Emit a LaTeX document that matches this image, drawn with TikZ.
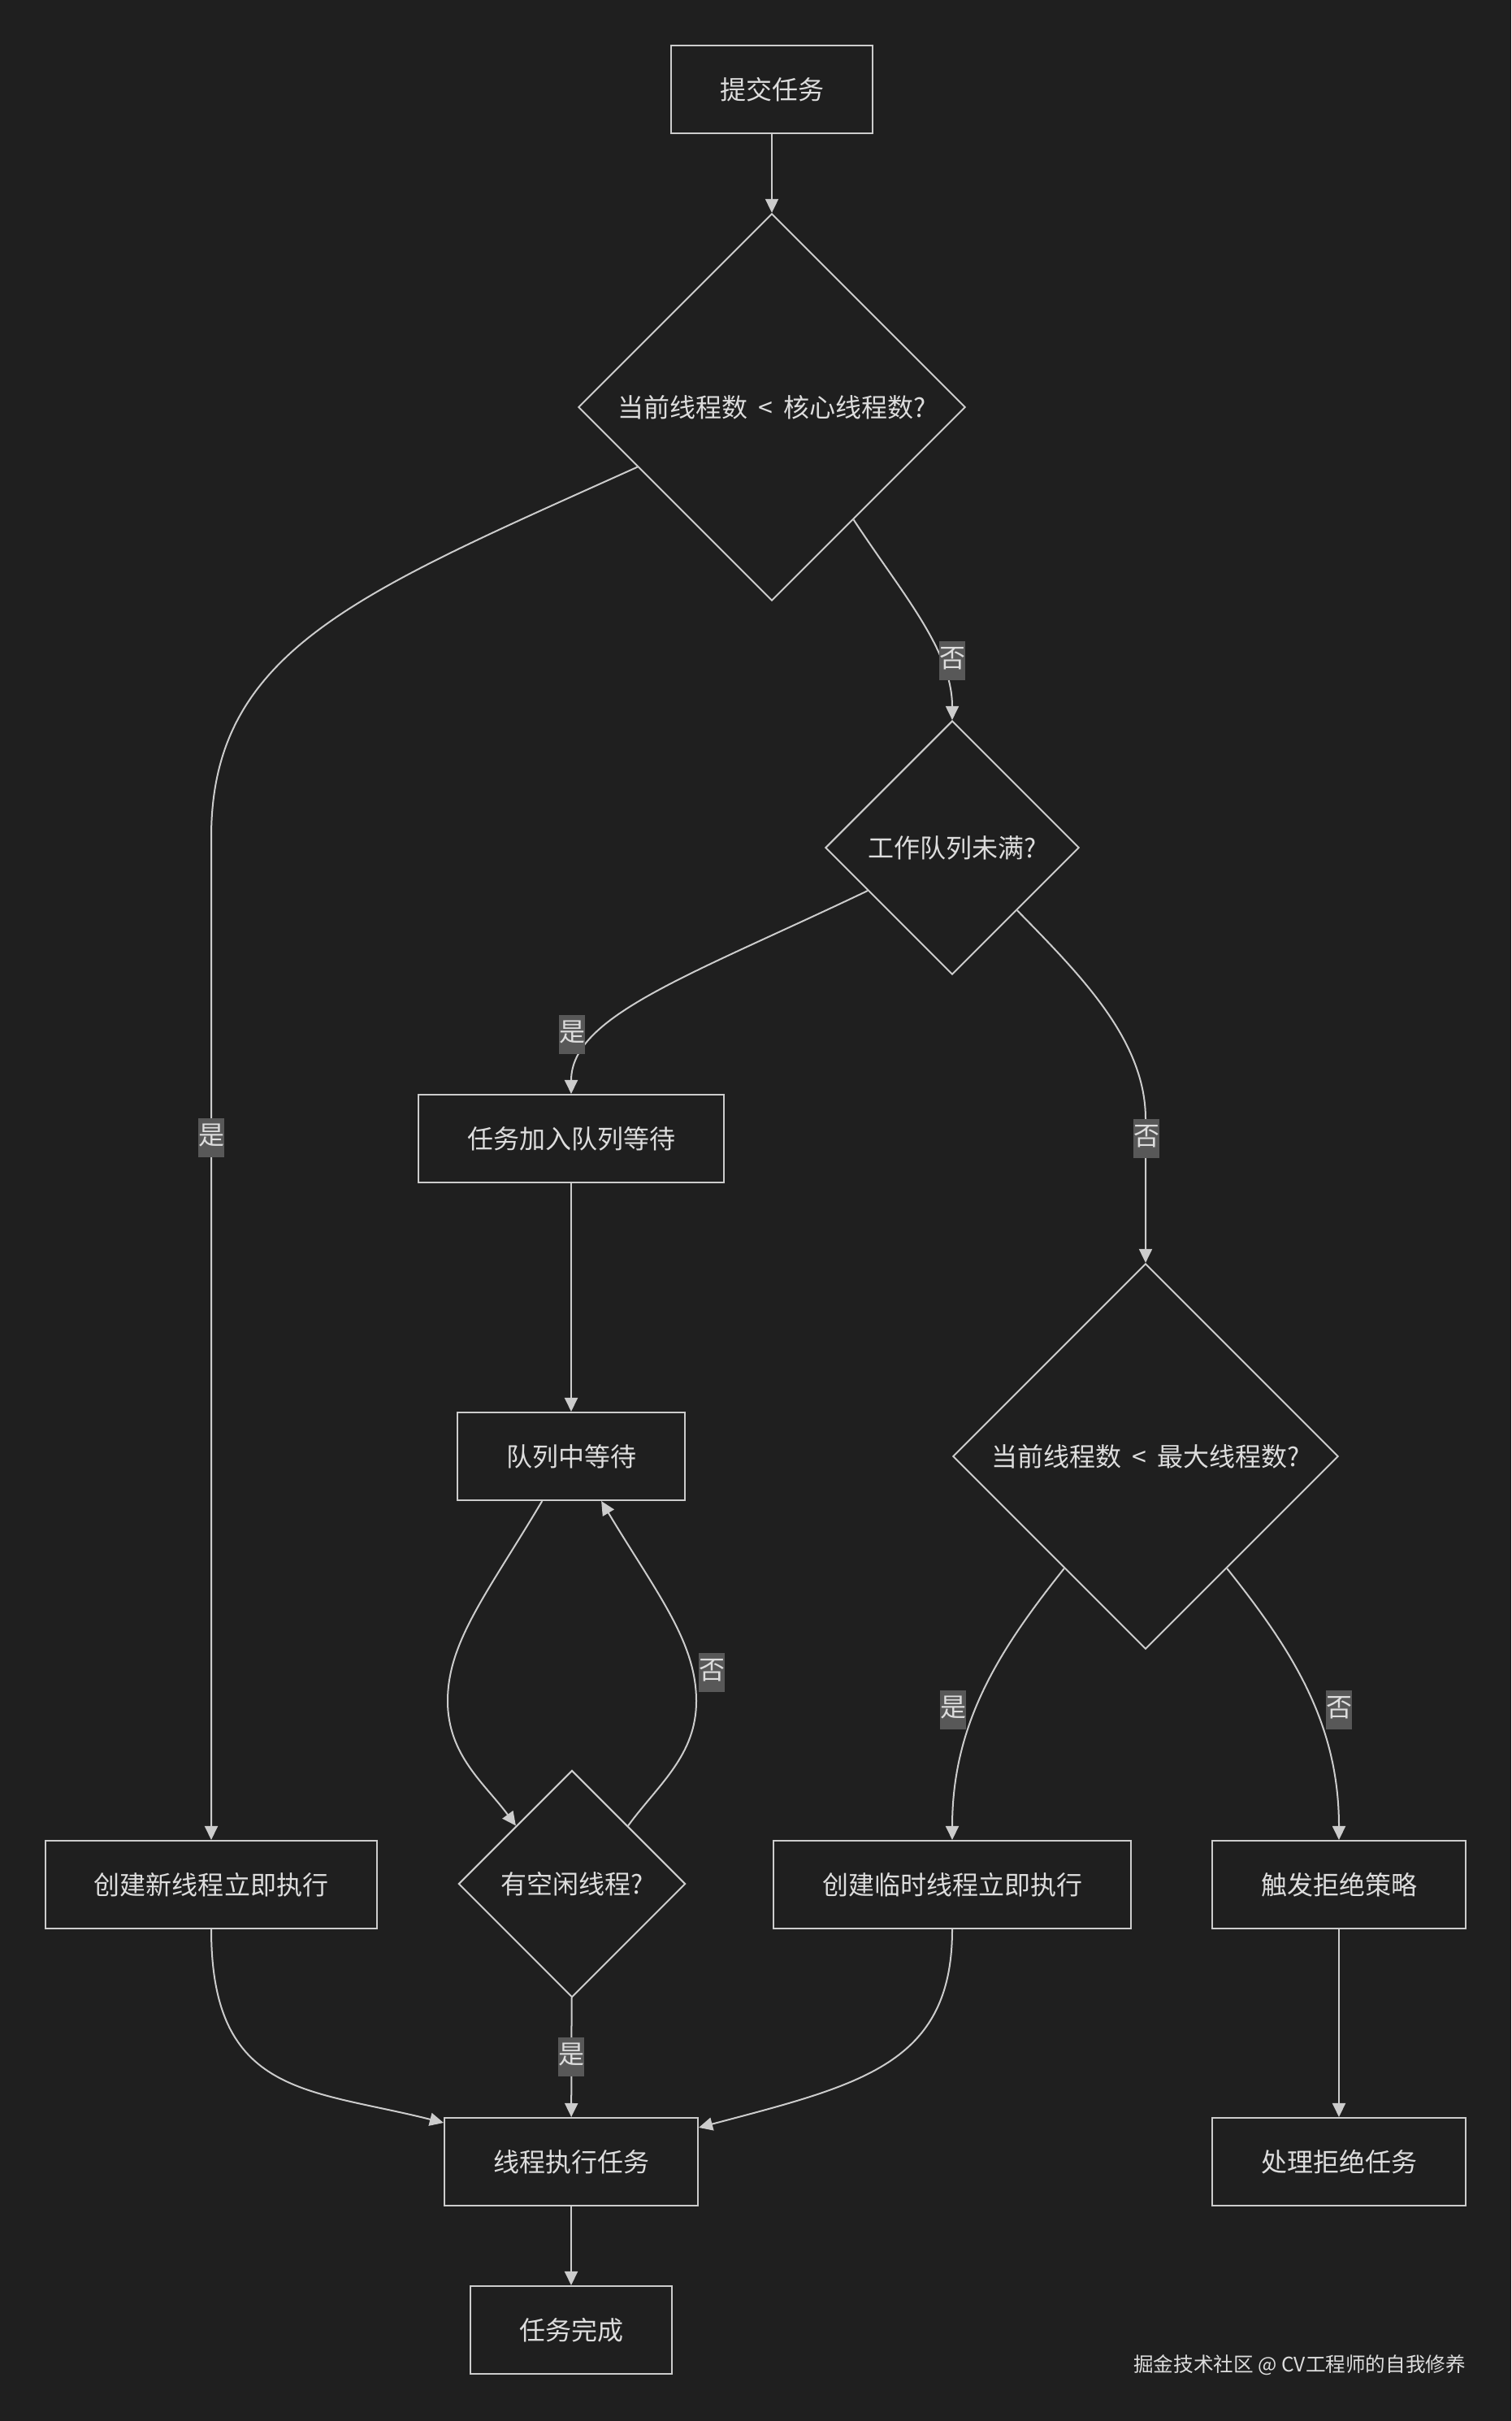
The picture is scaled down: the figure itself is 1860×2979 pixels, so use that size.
\documentclass[tikz,border=0pt]{standalone}
\usepackage{fontspec}
\setmainfont{Noto Sans CJK SC}
\usetikzlibrary{shapes.geometric,arrows.meta}
\definecolor{bgcol}{HTML}{1F1F1F}
\definecolor{fgcol}{HTML}{CCCCCC}
\definecolor{lblcol}{HTML}{585858}
\definecolor{txtcol}{HTML}{DDDDDD}
\newcommand{\lessgap}{\hspace{0.4em}<\hspace{0.4em}}
\begin{document}
\begin{tikzpicture}[x=0.01cm,y=-0.01cm,color=fgcol,line width=0.02cm,
    font=\fontsize{9.1pt}{11pt}\selectfont,
    >={Triangle[length=0.17cm,width=0.16cm]},
    box/.style={draw,rectangle,minimum height=1.08cm,inner xsep=0.6cm,inner ysep=0pt,text=txtcol},
    decision/.style={draw,diamond,aspect=1,inner sep=0pt,text=txtcol},
    lbl/.style={fill=lblcol,inner xsep=0pt,inner ysep=0.08cm,text height=0.24cm,text depth=0.08cm,text=txtcol}]




    \fill[bgcol] (0,0) rectangle (1860,2979);
    \node[box] (v1) at (950,110) {提交任务};
    \node[decision,minimum size=4.76cm] (v2) at (950,501) {当前线程数\lessgap 核心线程数?};
    \node[decision,minimum size=3.12cm] (v3) at (1172,1043) {工作队列未满?};
    \node[box] (v4) at (703,1401) {任务加入队列等待};
    \node[box] (v5) at (260,2319) {创建新线程立即执行};
    \node[box] (v6) at (703,1792) {队列中等待};
    \node[decision,minimum size=4.74cm] (v7) at (1410,1792) {当前线程数\lessgap 最大线程数?};
    \node[decision,minimum size=2.79cm] (v8) at (704,2318) {有空闲线程?};
    \node[box] (v9) at (1172,2319) {创建临时线程立即执行};
    \node[box] (v10) at (1648,2319) {触发拒绝策略};
    \node[box] (v11) at (703,2660) {线程执行任务};
    \node[box] (v12) at (1648,2660) {处理拒绝任务};
    \node[box] (v13) at (703,2867) {任务完成};
    \node[anchor=east,inner sep=0pt,text=txtcol,font=\fontsize{7pt}{8pt}\selectfont] (v14) at (1805,2910) {掘金技术社区 @ CV工程师的自我修养};
    \draw[->]  (v1) -- (v2);
    \draw[->]  (v2.204) .. controls (440,730) and (260,800) .. (260,1030) -- (v5.north);
    \draw[->]  (v2.306) .. controls (1110,730) and (1172,800) .. (v3.north);
    \draw[->]  (v3.207) .. controls (850,1200) and (703,1250) .. (v4.north);
    \draw[->]  (v3.316) .. controls (1330,1200) and (1410,1280) .. (1410,1377) -- (v7.north);
    \draw[->]  (v4) -- (v6);
    \draw[->]  (v6.237) .. controls (600,1960) and (551,2020) .. (551,2093) .. controls (551,2160) and (597,2195) .. (v8.134);
    \draw[->]  (v8.46) .. controls (811,2195) and (857,2160) .. (857,2093) .. controls (857,2020) and (808,1960) .. (v6.304);
    \draw[->]  (v8) -- (v11);
    \draw[->]  (v5.south) .. controls (260,2580) and (380,2570) .. (v11.163);
    \draw[->]  (v9.south) .. controls (1172,2540) and (1060,2565) .. (v11.15);
    \draw[->]  (v7.234) .. controls (1230,2030) and (1172,2120) .. (v9.north);
    \draw[->]  (v7.306) .. controls (1590,2030) and (1648,2120) .. (v10.north);
    \draw[->]  (v10) -- (v12);
    \draw[->]  (v11) -- (v13);
    \node[lbl] (l1) at (260,1400) {是};
    \node[lbl] (l2) at (1172,813) {否};
    \node[lbl] (l3) at (704,1273) {是};
    \node[lbl] (l4) at (1411,1401) {否};
    \node[lbl] (l5) at (876,2058) {否};
    \node[lbl] (l6) at (703,2531) {是};
    \node[lbl] (l7) at (1173,2104) {是};
    \node[lbl] (l8) at (1648,2104) {否};
    \end{tikzpicture}
\end{document}
